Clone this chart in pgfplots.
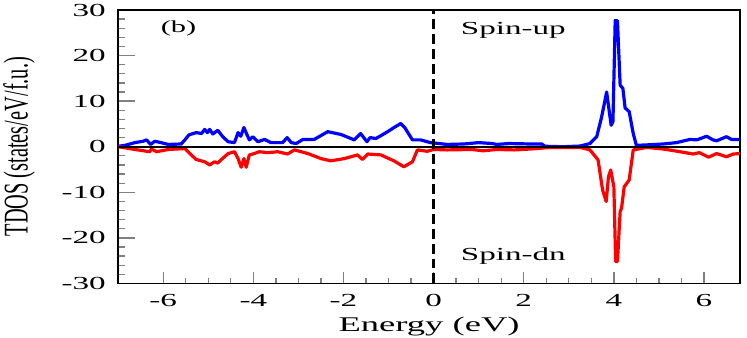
\documentclass[border=0pt]{standalone}
\usepackage{fontspec}
\setmainfont{Liberation Serif}
\usepackage{graphicx}
\usepackage{pgfplots}
\pgfplotsset{compat=1.18}
\newcommand\sx[1]{\scalebox{1.8}[1]{#1}}
\begin{document}
\begin{tikzpicture}
\begin{axis}[
  scale only axis, width=623bp, height=274bp,
  xmin=-7, xmax=6.8, ymin=-30, ymax=30,
  axis line style={line width=1.6bp},
  tick align=inside, xtick pos=bottom, ytick pos=left,
  xtick={-6,-4,-2,0,2,4,6},
  xticklabels={\sx{-6},\sx{-4},\sx{-2},\sx{0},\sx{2},\sx{4},\sx{6}},
  ytick={-30,-20,-10,0,10,20,30},
  yticklabels={\sx{-30},\sx{-20},\sx{-10},\sx{0},\sx{10},\sx{20},\sx{30}},
  minor x tick num=3, minor y tick num=4,
  xtick style={line width=1.3bp,/pgfplots/major tick length=11bp,/pgfplots/minor tick length=5bp},
  ytick style={line width=1.3bp,/pgfplots/major tick length=17bp,/pgfplots/minor tick length=7bp},
  ticklabel style={font=\fontsize{18.5}{18.5}\selectfont},
  yticklabel style={xshift=-9bp},
  xticklabel style={yshift=-10bp, inner sep=1bp},
  xlabel={\scalebox{1.75}[1]{Energy (eV)}},
  xlabel style={font=\fontsize{21}{21}\selectfont, inner sep=1bp, at={(axis description cs:0.5,0)}, anchor=north, yshift=-32bp},
  ylabel={\scalebox{1}[1.7]{TDOS (states/eV/f.u.)}},
  ylabel style={font=\fontsize{20.5}{20.5}\selectfont, at={(axis description cs:-0.128,0.5)}, anchor=south, rotate=0},
  clip=true,
]
\addplot[blue, line width=3.2bp, line join=round] coordinates {
(-7.0,0.1) (-6.85,0.3) (-6.63,0.9) (-6.45,1.2) (-6.37,1.5) (-6.28,0.5) (-6.19,1.2) (-6.05,0.9)
(-5.89,0.5) (-5.60,0.6) (-5.52,1.5) (-5.43,2.6) (-5.27,3.1) (-5.15,2.9) (-5.08,3.8) (-5.02,3.1)
(-4.97,3.8) (-4.90,2.8) (-4.79,3.6) (-4.68,2.2) (-4.56,1.1) (-4.42,0.9) (-4.34,3.1) (-4.28,2.3)
(-4.21,4.2) (-4.14,2.6) (-4.09,1.5) (-4.01,2.2) (-3.90,1.1) (-3.75,1.6) (-3.61,0.9) (-3.35,0.9)
(-3.25,2.0) (-3.16,0.9) (-3.05,0.7) (-2.90,1.6) (-2.65,1.6) (-2.35,3.3) (-2.06,2.7) (-1.76,1.5)
(-1.62,2.9) (-1.48,1.1) (-1.41,2.0) (-1.28,1.8) (-1.02,3.3) (-0.88,4.2) (-0.73,5.1) (-0.64,4.2)
(-0.47,1.5) (-0.29,1.5) (-0.07,0.9) (0.12,0.7) (0.30,0.5) (0.67,0.6) (1.0,0.9) (1.3,0.7)
(1.4,0.5) (1.67,0.7) (2.15,0.6) (2.4,0.6) (2.47,0.1) (2.88,0.0) (3.25,0.15) (3.47,0.7)
(3.62,2.2) (3.73,6.6) (3.84,12.0) (3.94,4.7) (3.98,5.5) (4.03,27.7) (4.08,27.6) (4.14,13.5)
(4.20,12.8) (4.25,8.5) (4.34,7.7) (4.43,2.9) (4.50,0.3) (4.73,0.4) (5.1,0.6) (5.39,0.9)
(5.69,1.6) (5.84,1.5) (6.06,2.3) (6.20,1.5) (6.28,1.3) (6.5,2.2) (6.61,1.6) (6.8,1.6)
};
\addplot[red, line width=3.2bp, line join=round] coordinates {
(-7.0,0) (-6.63,-0.6) (-6.30,-1.1) (-6.26,-0.5) (-6.15,-1.1) (-5.89,-0.6) (-5.52,-0.4) (-5.41,-1.5)
(-5.27,-2.8) (-5.08,-3.3) (-4.97,-4.0) (-4.86,-3.3) (-4.79,-3.6) (-4.72,-2.9) (-4.56,-1.5) (-4.42,-1.1)
(-4.34,-2.6) (-4.27,-4.5) (-4.21,-2.6) (-4.16,-4.5) (-4.09,-1.8) (-3.98,-1.5) (-3.87,-1.1) (-3.68,-1.3)
(-3.46,-1.1) (-3.24,-1.6) (-3.09,-0.7) (-2.79,-1.5) (-2.50,-2.6) (-2.28,-3.1) (-1.98,-2.6) (-1.69,-1.8)
(-1.58,-2.8) (-1.46,-1.6) (-1.17,-1.8) (-0.88,-3.1) (-0.66,-4.4) (-0.47,-3.3) (-0.36,-0.7) (-0.14,-1.0)
(0.0,-0.6) (0.3,-0.7) (0.85,-0.6) (1.1,-0.9) (1.4,-0.6) (1.8,-0.7) (2.15,-0.5) (2.6,-0.15)
(3.25,-0.15) (3.47,-0.7) (3.65,-2.9) (3.75,-9.5) (3.83,-12.0) (3.88,-6.6) (3.93,-5.1) (4.0,-8.8)
(4.04,-25.2) (4.08,-25.2) (4.14,-14.2) (4.17,-13.5) (4.23,-8.8) (4.34,-7.3) (4.43,-0.7) (4.73,-0.15)
(5.1,-0.5) (5.47,-1.1) (5.76,-1.6) (5.9,-1.3) (6.1,-2.3) (6.28,-1.5) (6.5,-2.2) (6.65,-1.6) (6.8,-1.5)
};
\addplot[black, line width=1.8bp] coordinates {(-7,0) (6.8,0)};
\addplot[black, line width=3bp, dash pattern=on 10bp off 5bp] coordinates {(0,-30) (0,30)};
\node[anchor=center, font=\fontsize{17}{17}\selectfont] at (axis cs:-5.66,26) {\sx{(b)}};
\node[anchor=west, font=\fontsize{18.5}{18.5}\selectfont, inner sep=0pt] at (axis cs:0.6,25.5) {\sx{Spin-up}};
\node[anchor=west, font=\fontsize{18.5}{18.5}\selectfont, inner sep=0pt] at (axis cs:0.6,-24.1) {\sx{Spin-dn}};
\end{axis}
\path[use as bounding box] ([shift={(-117bp,-54bp)}]current axis.south west) rectangle ([shift={(7bp,10bp)}]current axis.north east);
\end{tikzpicture}
\end{document}
